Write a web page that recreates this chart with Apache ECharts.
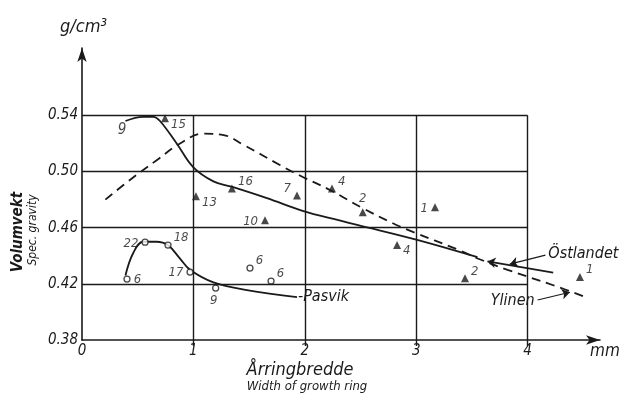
<!DOCTYPE html>
<html><head><meta charset="utf-8">
<script src="https://cdn.jsdelivr.net/npm/echarts@6/dist/echarts.min.js"></script>
<style>html,body{margin:0;padding:0;background:#fff}#c{width:624px;height:406px}</style>
</head><body><div id="c"></div>
<script>
// ---- data ----
const xTickValues = [0, 1, 2, 3, 4];
const yTickValues = [0.38, 0.42, 0.46, 0.50, 0.54];
const gridXLines = [1, 2, 3, 4];
const gridYLines = [0.42, 0.46, 0.50, 0.54];

// Östlandet (solid upper curve)
const ostX = [0.39, 0.55, 0.64, 0.70, 0.85, 1.00, 1.18, 1.35, 1.66, 1.98, 2.32, 2.47, 3.00, 3.55];
const ostY = [0.536, 0.539, 0.539, 0.536, 0.520, 0.503, 0.493, 0.489, 0.481, 0.472, 0.465, 0.462, 0.4515, 0.439];
const ostExtX = [4.23, 3.64];
const ostExtY = [0.428, 0.436];

// Ylinen (dashed curve)
const ylinenX = [0.21, 0.43, 0.67, 0.88, 1.09, 1.27, 1.45, 1.78, 1.96, 2.23, 2.52, 2.79, 2.97, 3.37, 3.57, 3.82, 4.23, 4.54];
const ylinenY = [0.480, 0.494, 0.508, 0.520, 0.527, 0.526, 0.519, 0.5045, 0.497, 0.4867, 0.4739, 0.4632, 0.457, 0.4445, 0.4375, 0.430, 0.419, 0.410];

// Pasvik (solid lower curve)
const pasvikX = [0.39, 0.46, 0.55, 0.67, 0.77, 0.88, 0.97, 1.18, 1.48, 1.93];
const pasvikY = [0.426, 0.442, 0.450, 0.450, 0.4476, 0.438, 0.430, 0.421, 0.4156, 0.4106];

// triangle samples
const triX = [0.745, 1.346, 1.023, 1.93, 1.643, 2.244, 2.52, 3.169, 2.828, 3.438, 4.47];
const triY = [0.538, 0.488, 0.4824, 0.483, 0.4653, 0.488, 0.471, 0.4746, 0.4476, 0.424, 0.4248];
const triLabels = ['15', '16', '13', '7', '10', '4', '2', '1', '4', '2', '1'];

// circle samples
const circX = [0.404, 0.566, 0.772, 0.97, 1.508, 1.697, 1.20];
const circY = [0.4234, 0.4497, 0.4476, 0.4284, 0.4312, 0.422, 0.417];
const circLabels = ['6', '22', '18', '17', '6', '6', '9'];

// unmarked note at curve start
const noteX = [0.36];
const noteY = [0.5295];
const noteLabels = ['9'];

// leader annotations
const ostLeaderX = [4.16, 3.84];
const ostLeaderY = [0.4405, 0.434];
const ylinenLeaderX = [4.09, 4.38];
const ylinenLeaderY = [0.4085, 0.414];

// ---- layout / style (not data) ----
const triLabelSide = ['br', 'tr', 'br', 'tl', 'l', 'tr', 't', 'l', 'br', 'tr', 'tr'];
const circLabelSide = ['r', 'l', 'tr', 'l', 'tr', 'tr', 'b'];

const FONT = "'Liberation Sans Narrow','DejaVu Sans Condensed','Liberation Sans',Arial,sans-serif";
const INK = '#1a1a1a';

function sideLabel(side, text) {
  const m = {
    r: {position: 'right', offset: [0, 1]},
    l: {position: 'left', offset: [0, 1]},
    t: {position: 'top', offset: [0, 0]},
    b: {position: 'bottom', offset: [-2, -1]},
    tr: {position: 'right', offset: [-1, -7]},
    br: {position: 'right', offset: [-1, 6]},
    tl: {position: 'left', offset: [1, -7]}
  }[side];
  return Object.assign({show: true, formatter: text, distance: 3, fontFamily: FONT,
    fontStyle: 'italic', fontSize: 13, color: INK}, m);
}
const zip = (xs, ys) => xs.map((x, i) => [x, ys[i]]);

const gridSegs = [];
gridXLines.forEach(x => gridSegs.push([{coord: [x, 0.38]}, {coord: [x, 0.54]}]));
gridYLines.forEach(y => gridSegs.push([{coord: [0, y]}, {coord: [4, y]}]));

const chart = echarts.init(document.getElementById('c'), null, {renderer: 'canvas'});
chart.setOption({
  animation: false,
  backgroundColor: '#ffffff',
  grid: {left: 82, right: 24, top: 48, bottom: 66},
  xAxis: {
    type: 'value', min: 0, max: 4.65,
    splitLine: {show: false},
    axisLine: {show: true, symbol: ['none', 'arrow'], symbolSize: [7, 14], lineStyle: {color: INK, width: 1.6}},
    axisTick: {show: true, customValues: gridXLines, length: 6, lineStyle: {color: INK, width: 1.4}},
    axisLabel: {customValues: xTickValues, fontFamily: FONT, fontStyle: 'italic', fontSize: 15, color: INK, margin: 4}
  },
  yAxis: {
    type: 'value', min: 0.38, max: 0.588,
    splitLine: {show: false},
    axisLine: {show: true, symbol: ['none', 'arrow'], symbolSize: [7, 14], lineStyle: {color: INK, width: 1.6}},
    axisTick: {show: false},
    axisLabel: {customValues: yTickValues, formatter: v => v.toFixed(2), fontFamily: FONT, fontStyle: 'italic',
      fontSize: 15, color: INK, margin: 4}
  },
  graphic: [
    {type: 'text', left: 60, top: 18, style: {text: 'g/cm³', font: 'italic 18px ' + FONT, fill: INK}},
    {type: 'text', left: 590, top: 343, style: {text: 'mm', font: 'italic 17px ' + FONT, fill: INK}},
    {type: 'text', x: 300, y: 370, style: {text: 'Årringbredde', font: 'italic 18px ' + FONT, fill: INK, textAlign: 'center', textVerticalAlign: 'middle'}},
    {type: 'text', x: 307, y: 387, style: {text: 'Width of growth ring', font: 'italic 13px ' + FONT, fill: INK, textAlign: 'center', textVerticalAlign: 'middle'}},
    {type: 'text', x: 18, y: 232, rotation: Math.PI / 2, style: {text: 'Volumvekt', font: 'italic bold 15px ' + FONT, fill: INK, textAlign: 'center', textVerticalAlign: 'middle'}},
    {type: 'text', x: 33, y: 230, rotation: Math.PI / 2, style: {text: 'Spec. gravity', font: 'italic 12px ' + FONT, fill: INK, textAlign: 'center', textVerticalAlign: 'middle'}}
  ],
  series: [
    {
      type: 'line', data: [], silent: true, z: 1,
      markLine: {silent: true, symbol: ['none', 'none'], label: {show: false},
        lineStyle: {color: INK, width: 1.4, type: 'solid'}, emphasis: {disabled: true}, data: gridSegs}
    },
    {
      type: 'line', data: zip(ostX, ostY), smooth: 0.4, showSymbol: false, z: 3,
      lineStyle: {color: INK, width: 1.8}
    },
    {
      type: 'line', data: zip(ylinenX, ylinenY), smooth: 0.4, showSymbol: false, z: 3,
      lineStyle: {color: INK, width: 1.8, type: [9, 6]}
    },
    {
      type: 'line', data: zip(pasvikX, pasvikY), smooth: 0.4, showSymbol: false, z: 3,
      lineStyle: {color: INK, width: 1.8},
      endLabel: {show: true, formatter: '-Pasvik', fontFamily: FONT, fontStyle: 'italic', fontSize: 16, color: INK, distance: 1}
    },
    {
      type: 'line', data: [], silent: true, z: 3,
      markLine: {
        silent: true, symbol: ['none', 'arrow'], symbolSize: 8, emphasis: {disabled: true},
        lineStyle: {color: INK, width: 1.6, type: 'solid'},
        data: [
          [{coord: [ostExtX[0], ostExtY[0]]}, {coord: [ostExtX[1], ostExtY[1]]}],
          [{coord: [ostLeaderX[0], ostLeaderY[0]]}, {coord: [ostLeaderX[1], ostLeaderY[1]]}],
          [{coord: [ylinenLeaderX[0], ylinenLeaderY[0]]}, {coord: [ylinenLeaderX[1], ylinenLeaderY[1]]}]
        ].map((seg, i) => {
          const names = ['', 'Östlandet', 'Ylinen'];
          seg[0].label = names[i] ? {show: true, position: 'start', formatter: names[i], fontFamily: FONT,
            fontStyle: 'italic', fontSize: 16, color: INK, distance: 3} : {show: false};
          if (i > 0) seg[0].lineStyle = {width: 1.2};
          return seg;
        })
      }
    },
    {
      type: 'scatter', z: 4, symbol: 'triangle', symbolSize: 8,
      itemStyle: {color: INK},
      data: triX.map((x, i) => ({value: [x, triY[i]], label: sideLabel(triLabelSide[i], triLabels[i])}))
    },
    {
      type: 'scatter', z: 4, symbol: 'circle', symbolSize: 6,
      itemStyle: {color: '#fff', borderColor: INK, borderWidth: 1.3},
      data: circX.map((x, i) => ({value: [x, circY[i]], label: sideLabel(circLabelSide[i], circLabels[i])}))
    },
    {
      type: 'scatter', z: 5, symbol: 'circle', symbolSize: 2,
      itemStyle: {color: 'rgba(0,0,0,0)'},
      data: noteX.map((x, i) => ({value: [x, noteY[i]], label: {show: true, position: 'inside', formatter: noteLabels[i],
        fontFamily: FONT, fontStyle: 'italic', fontSize: 15, color: INK}}))
    }
  ]
});
</script>
</body></html>
